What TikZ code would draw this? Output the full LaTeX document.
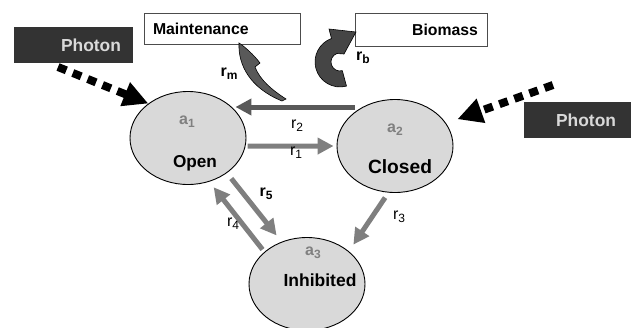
\documentclass[tikz,border=0pt]{standalone}
\usepackage{fontspec}
\setmainfont{Liberation Sans}
\usetikzlibrary{positioning, arrows.meta, shapes.geometric, calc}

\definecolor{statefill}{HTML}{D9D9D9}
\definecolor{flowgray}{HTML}{7F7F7F}
\definecolor{flowdark}{HTML}{595959}
\definecolor{photonfill}{HTML}{333333}
\definecolor{photontext}{HTML}{D9D9D9}
\definecolor{curlfill}{HTML}{454545}

% subscript in the style of the figure
\newcommand{\idx}[1]{\raisebox{-0.35ex}{\fontsize{12}{12}\selectfont #1}}

\begin{document}
\begin{tikzpicture}[
        x=1pt, y=-1pt,
        state/.style={ellipse, draw, fill=statefill, line width=0.9pt, minimum width=116, minimum height=93, inner sep=0pt},
        statename/.style={font=\bfseries\fontsize{#1}{#1}\selectfont, inner sep=0pt},
        statetag/.style={text=gray, font=\bfseries\fontsize{16}{16}\selectfont, inner sep=0pt},
        photon/.style={fill=photonfill, text=photontext, font=\bfseries\fontsize{17.4}{18}\selectfont, minimum height=36, align=right, inner sep=0pt},
        sink/.style={draw=black!70, fill=white, line width=1pt, minimum height=#1, font=\bfseries\fontsize{15.8}{16}\selectfont, inner sep=0pt},
        flow/.style={line width=5pt, draw=flowgray, -{Triangle[length=16pt,width=16pt]}},
        light/.style={line width=8pt, dash pattern=on 9pt off 7pt, -{Triangle[length=25pt,width=24pt]}},
        rate/.style={font=\fontsize{16}{16}\selectfont, inner sep=0pt},
        boldrate/.style={rate, font=\bfseries\fontsize{16}{16}\selectfont},
    ]
    \useasboundingbox (0,0) rectangle (631,327);

        % States
        \node[state] (open) at (188,138) {};
        \node[state] (closed) at (395,146) {};
        \node[state] (inhib) at (307,284) {};

        \node[statetag] (a-1) at (187,122) {a\idx{1}};
        \node[statename=17.2] (open-name) at (195,163) {Open};
        \node[statetag] (a-2) at (395,130) {a\idx{2}};
        \node[statename=19.2] (closed-name) at (400,167) {Closed};
        \node[statetag] (a-3) at (313,253) {a\idx{3}};
        \node[statename=17.5] (inhib-name) at (320,280) {Inhibited};

        % Light sources and sinks
        \node[photon, minimum width=119, text width=95] (photon-l) at (73.5,45) {Photon};
        \node[photon, minimum width=107, text width=77] (photon-r) at (577.5,120) {Photon};
        \node[sink=31, minimum width=156, text width=138, align=left] (maint) at (222,28.5) {Maintenance};
        \node[sink=33, minimum width=132, text width=114, align=right] (biomass) at (421,29.5) {Biomass};

        % Photon arrows
        \coordinate (sun-l) at (58,67);
        \coordinate (sun-r) at (553,85);
        \draw[light] (sun-l) -- (open.139);
        \draw[light, shorten >=12pt] (sun-r) -- (closed.24);

        % Transitions between the states
        \draw[flow, draw=flowdark] (closed.140 |- 0,107) -- (open.30 |- 0,107);
        \draw[flow, shorten <=2pt, shorten >=3pt] (open.-8) -- (closed.180);
        \draw[flow, shorten <=6pt, shorten >=8pt] (closed.262) -- (inhib.38);
        \draw[flow, shorten <=7pt, shorten >=8pt] (open.-42) -- (inhib.121);
        \draw[flow, shorten <=3pt, shorten >=7pt] (inhib.143) -- (open.-64);

        % Rates
        \node[rate] (r-1) at (296,153) {r\idx{1}};
        \node[rate] (r-2) at (297,126) {r\idx{2}};
        \node[rate] (r-3) at (399,217) {r\idx{3}};
        \node[rate] (r-4) at (233,224) {r\idx{4}};
        \node[boldrate] (r-5) at (266,194) {r\idx{5}};
        \node[boldrate] (r-m) at (229,74) {r\idx{m}};
        \node[boldrate] (r-b) at (363,58) {r\idx{b}};

        % Curled arrows to maintenance and biomass
        \filldraw[fill=flowdark, draw=black, line width=0.6pt]
            (239,43) .. controls (238,65) and (250,88) .. (282,101) -- (286,99)
            .. controls (272,90) and (260,80) .. (255,67) -- (260,63)
            .. controls (254,55) and (244,46) .. cycle;
        \filldraw[fill=curlfill, draw=black, line width=0.6pt]
            (346.5,86.1) arc[start angle=75, end angle=250, radius=25]
            -- (329,29) -- (356,32) -- (344,54) -- (336.9,53.5)
            arc[start angle=250, end angle=75, radius=9] -- cycle;
\end{tikzpicture}
\end{document}
